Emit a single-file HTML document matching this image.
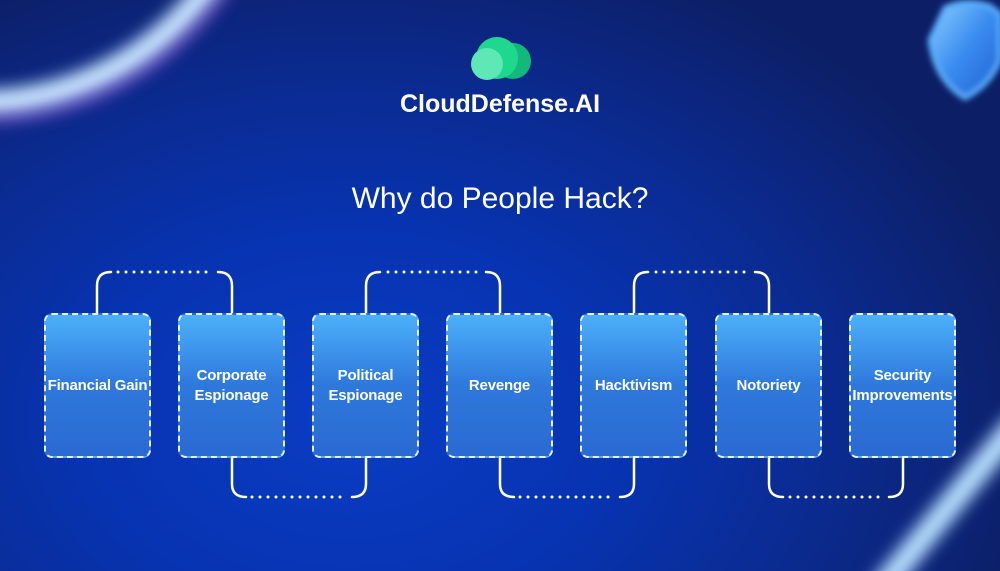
<!DOCTYPE html>
<html><head><meta charset="utf-8"><style>
html,body{margin:0;padding:0;width:1000px;height:571px;overflow:hidden;}
body{position:relative;background:radial-gradient(ellipse 700px 500px at 350px 420px,#0a3cc4 0%,#0733b0 40%,#0b2a8e 70%,#0c1f66 100%);font-family:"Liberation Sans",sans-serif;}
.box{position:absolute;top:313px;width:107px;height:145px;box-sizing:border-box;border:2px dashed #e8f2ff;border-radius:8px;background:linear-gradient(#4cb0fa,#2e78dc 50%,#2a6ad2);color:#fff;font-weight:bold;font-size:15px;line-height:20px;display:flex;align-items:center;justify-content:center;text-align:center;letter-spacing:-0.2px;}
.t{position:absolute;color:#fff;text-align:center;width:1000px;left:0;}
</style></head><body>
<svg width="1000" height="571" style="position:absolute;left:0;top:0">
<defs><filter id="b" x="-50%" y="-50%" width="200%" height="200%"><feGaussianBlur stdDeviation="8"/></filter><filter id="b2" x="-50%" y="-50%" width="200%" height="200%"><feGaussianBlur stdDeviation="3"/></filter>
<linearGradient id="sh" x1="0" y1="0" x2="1" y2="1"><stop offset="0" stop-color="#8fd0ff"/><stop offset="0.5" stop-color="#3a8cf0"/><stop offset="1" stop-color="#1f5fd0"/></linearGradient></defs>
<circle cx="-20" cy="-180" r="283" fill="none" stroke="#c8e4ff" stroke-width="26" filter="url(#b)"/>
<circle cx="-20" cy="-180" r="300" fill="none" stroke="#8a3cd8" stroke-width="10" filter="url(#b)" opacity="0.5"/>
<line x1="1020" y1="420" x2="880" y2="590" stroke="#b8e0ff" stroke-width="24" filter="url(#b)"/>
<path d="M945 8 Q965 -2 990 6 L1000 14 L1000 60 Q990 85 965 98 Q935 80 930 40 Z" fill="url(#sh)" stroke="#5ab0ff" stroke-width="5" filter="url(#b2)"/>
<g fill="none" stroke="#fff" stroke-width="2.5" stroke-linecap="round">
<path d="M97 313 V286 Q97 272 111 272"/><path d="M232 313 V286 Q232 272 218 272"/>
<path d="M366 313 V286 Q366 272 380 272"/><path d="M500 313 V286 Q500 272 486 272"/>
<path d="M634 313 V286 Q634 272 648 272"/><path d="M769 313 V286 Q769 272 755 272"/>
<path d="M232 458 V484 Q232 497 246 497"/><path d="M366 458 V484 Q366 497 352 497"/>
<path d="M500 458 V484 Q500 497 514 497"/><path d="M634 458 V484 Q634 497 620 497"/>
<path d="M769 458 V484 Q769 497 783 497"/><path d="M903 458 V484 Q903 497 889 497"/>
</g>
<g stroke="#fff" stroke-width="3" stroke-linecap="round" stroke-dasharray="0 8">
<line x1="118" y1="272" x2="214" y2="272"/><line x1="388" y1="272" x2="482" y2="272"/><line x1="656" y1="272" x2="750" y2="272"/>
<line x1="252" y1="497" x2="348" y2="497"/><line x1="520" y1="497" x2="616" y2="497"/><line x1="790" y1="497" x2="886" y2="497"/>
</g>
<circle cx="513" cy="61" r="18" fill="#12b97a"/><circle cx="497" cy="58" r="21" fill="#1fd890"/><circle cx="487" cy="64" r="16" fill="#5ee8b5"/>
</svg>
<div class="t" style="top:90px;font-size:25px;font-weight:bold;">CloudDefense.AI</div>
<div class="t" style="top:182px;font-size:30px;">Why do People Hack?</div>
<div class="box" style="left:44px">Financial Gain</div>
<div class="box" style="left:178px">Corporate<br>Espionage</div>
<div class="box" style="left:312px">Political<br>Espionage</div>
<div class="box" style="left:446px">Revenge</div>
<div class="box" style="left:580px">Hacktivism</div>
<div class="box" style="left:715px">Notoriety</div>
<div class="box" style="left:849px">Security<br>Improvements</div>
</body></html>
